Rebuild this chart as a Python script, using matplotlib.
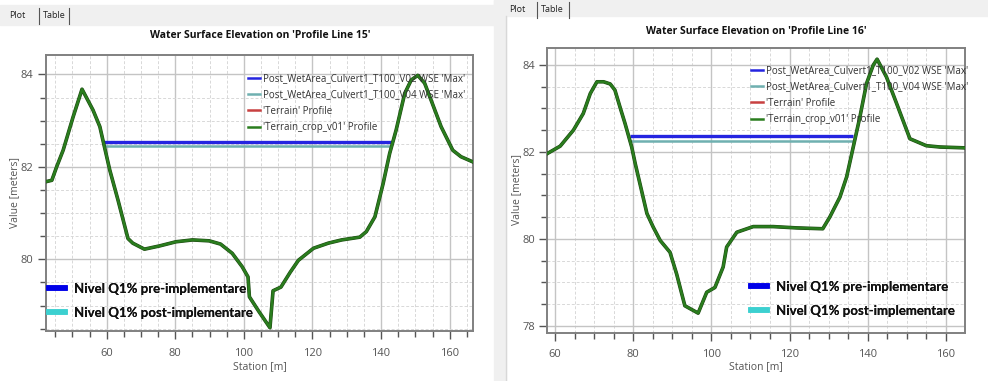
import matplotlib
matplotlib.use('Agg')
import matplotlib.pyplot as plt
from matplotlib.lines import Line2D
from matplotlib.patches import Rectangle
from matplotlib.ticker import MultipleLocator
import matplotlib.patheffects as pe

plt.rcParams['font.family'] = ['Open Sans', 'DejaVu Sans']

# ---------------- data ----------------
titles = ["Water Surface Elevation on 'Profile Line 15'",
          "Water Surface Elevation on 'Profile Line 16'"]
series_labels = ["Post_WetArea_Culvert1_T100_V02 WSE 'Max'",
                 "Post_WetArea_Culvert1_T100_V04 WSE 'Max'",
                 "'Terrain' Profile",
                 "'Terrain_crop_v01' Profile"]
note_labels = ["Nivel Q1% pre-implementare", "Nivel Q1% post-implementare"]

# Profile Line 15
left_station = [42.3, 44.0, 45.4, 47.3, 50.2, 52.8, 56.0, 58.0, 59.1, 60.9, 63.3, 66.2,
                67.6, 71.0, 75.4, 80.2, 85.0, 89.9, 93.2, 96.6, 99.5, 101.2, 101.6,
                104.3, 107.6, 108.5, 110.8, 113.5, 115.9, 120.3, 124.6, 128.5, 133.8,
                135.7, 138.2, 140.6, 142.5, 144.4, 146.9, 148.8, 150.7, 152.7, 154.6,
                157.5, 160.9, 163.3, 167.0]
left_elev = [81.68, 81.71, 82.00, 82.36, 83.08, 83.68, 83.23, 82.87, 82.51, 81.93, 81.28,
             80.45, 80.35, 80.22, 80.29, 80.38, 80.42, 80.40, 80.33, 80.13, 79.84, 79.62,
             79.19, 78.88, 78.52, 79.32, 79.40, 79.72, 79.98, 80.24, 80.35, 80.42, 80.48,
             80.60, 80.92, 81.64, 82.29, 82.80, 83.59, 83.88, 83.98, 83.81, 83.44, 82.87,
             82.36, 82.22, 82.10]
left_wse_v02_station = [58.9, 143.5]
left_wse_v02 = [82.54, 82.54]
left_wse_v04_station = [58.9, 143.3]
left_wse_v04 = [82.45, 82.45]

# Profile Line 16
right_station = [58.0, 61.3, 64.7, 67.2, 69.0, 70.7, 72.4, 74.1, 75.3, 76.6, 77.9, 79.6,
                 80.5, 81.7, 83.5, 85.1, 86.9, 89.4, 91.1, 93.2, 96.6, 98.8, 100.9, 103.0,
                 103.9, 106.5, 110.7, 115.8, 121.8, 128.5, 130.3, 132.9, 134.6, 136.3,
                 138.0, 139.7, 141.4, 142.4, 144.8, 147.4, 150.8, 155.0, 158.5, 165.0]
right_elev = [81.96, 82.13, 82.50, 82.88, 83.34, 83.61, 83.61, 83.56, 83.42, 83.03, 82.65,
              82.11, 81.73, 81.27, 80.58, 80.27, 79.96, 79.69, 79.19, 78.46, 78.29, 78.77,
              78.88, 79.35, 79.81, 80.15, 80.28, 80.28, 80.25, 80.23, 80.50, 80.96, 81.42,
              82.11, 82.80, 83.57, 83.99, 84.13, 83.72, 83.11, 82.30, 82.14, 82.11, 82.09]
right_wse_v02_station = [79.2, 136.3]
right_wse_v02 = [82.36, 82.36]
right_wse_v04_station = [79.2, 136.2]
right_wse_v04 = [82.24, 82.24]

# ---------------- figure ----------------
W, H = 988, 381
fig = plt.figure(figsize=(W / 100, H / 100), dpi=100)
fig.patch.set_facecolor('white')


def fx(px):
    return px / W


def fy(py):
    return 1 - py / H


# window chrome
fig.patches.append(Rectangle((0, fy(25)), fx(494), 20 / H, transform=fig.transFigure,
                             color='#f0f0f0', zorder=0))
fig.patches.append(Rectangle((fx(494), 0), fx(12), 1, transform=fig.transFigure,
                             color='#f0f0f0', zorder=0))
fig.patches.append(Rectangle((fx(494), fy(16)), fx(494), 16 / H, transform=fig.transFigure,
                             color='#f0f0f0', zorder=0))
fig.lines.append(Line2D([fx(506), fx(506)], [0, fy(16)], transform=fig.transFigure,
                        color='#d8d8d8', lw=1))

for (px, py, sep) in [(9, 16, (39, 69)), (509, 10, (537, 569))]:
    fig.text(fx(px), fy(py), 'Plot', ha='left', va='center', fontsize=6.5, color='#222')
    fig.text(fx(sep[0] + 4), fy(py), 'Table', ha='left', va='center', fontsize=6.5, color='#222')
    for s in sep:
        fig.lines.append(Line2D([fx(s), fx(s)], [fy(py - 8), fy(py + 8)],
                                transform=fig.transFigure, color='#555', lw=0.8))

fig.text(fx(260), fy(35), titles[0], ha='center', va='center', fontsize=7.5,
         fontweight='bold', color='#111')
fig.text(fx(756), fy(32), titles[1], ha='center', va='center', fontsize=7.5,
         fontweight='bold', color='#111')

axL = fig.add_axes([fx(46), fy(331), fx(427), 276 / H])
axR = fig.add_axes([fx(547.3), fy(332.7), fx(417.7), 284.4 / H])

C_V02 = '#2424e0'
C_V04 = '#6fb0b0'
C_TER = '#c84040'
C_CROP = '#2a7d1e'


def style(ax, xlab_pos, ylab_pos):
    for s in ax.spines.values():
        s.set_color('#808080')
        s.set_linewidth(1.4)
    ax.xaxis.set_major_locator(MultipleLocator(20))
    ax.xaxis.set_minor_locator(MultipleLocator(5))
    ax.yaxis.set_major_locator(MultipleLocator(2))
    ax.yaxis.set_minor_locator(MultipleLocator(0.5))
    ax.tick_params(which='major', direction='out', length=6, width=1, color='#555',
                   labelsize=8, labelcolor='#555')
    ax.tick_params(axis='x', which='major', pad=6)
    ax.tick_params(axis='y', which='major', pad=3)
    ax.tick_params(which='minor', direction='out', length=4, width=1, color='#555')
    ax.grid(which='major', color='#c4c4c4', lw=1.0, ls='-')
    ax.grid(which='minor', color='#d8d8d8', lw=0.7, ls=(0, (3, 2)))
    ax.set_axisbelow(True)
    ax.set_xlabel('Station [m]', fontsize=7.5, color='#555')
    ax.set_ylabel('Value [meters]', fontsize=7.5, color='#555')
    ax.xaxis.set_label_coords(*xlab_pos)
    ax.yaxis.set_label_coords(*ylab_pos)


def draw(ax, st, el, s2, v2, s4, v4):
    h1, = ax.plot(s2, v2, color=C_V02, lw=2.4, solid_capstyle='butt', zorder=3)
    h2, = ax.plot(s4, v4, color=C_V04, lw=1.8, solid_capstyle='butt', zorder=3)
    h3, = ax.plot(st, el, color=C_TER, lw=1.6, zorder=4)
    h4, = ax.plot(st, el, color=C_CROP, lw=1.8, zorder=5,
                  path_effects=[pe.Stroke(linewidth=2.6, foreground='#1e4a14'), pe.Normal()])
    return [h1, h2, h3, h4]


draw(axL, left_station, left_elev, left_wse_v02_station, left_wse_v02,
     left_wse_v04_station, left_wse_v04)
draw(axR, right_station, right_elev, right_wse_v02_station, right_wse_v02,
     right_wse_v04_station, right_wse_v04)
style(axL, (0.501, -0.109), (-0.061, 0.5))
style(axR, (0.4996, -0.0995), (-0.0606, 0.502))
axL.set_xlim(42.3, 166.8)
axL.set_ylim(78.45, 84.42)
axR.set_xlim(58.0, 164.9)
axR.set_ylim(77.84, 84.38)

legend_handles = [Line2D([], [], color=c, lw=1.8) for c in (C_V02, C_V04, C_TER, C_CROP)]
for ax, (px, py) in [(axL, (248, 73)), (axR, (751, 65))]:
    leg = ax.legend(legend_handles, series_labels, loc='upper left',
                    bbox_to_anchor=(fx(px), fy(py)), bbox_transform=fig.transFigure,
                    frameon=False, borderpad=0, fontsize=7, handlelength=1.2,
                    handletextpad=0.3, labelspacing=0.55, borderaxespad=0)
    for t in leg.get_texts():
        t.set_color('#333')
    ax.add_artist(leg)

note_handles = [Line2D([], [], color='#0000e8', lw=4),
                Line2D([], [], color='#3cd0d0', lw=4)]
for ax, (px, py) in [(axL, (49, 283)), (axR, (751, 281))]:
    leg2 = ax.legend(note_handles, note_labels, loc='upper left',
                     bbox_to_anchor=(fx(px), fy(py)), bbox_transform=fig.transFigure,
                     frameon=False, borderpad=0, borderaxespad=0,
                     prop={'family': ['Lato', 'DejaVu Sans'], 'weight': 'bold', 'size': 9.5},
                     handlelength=1.25, handletextpad=0.65, labelspacing=0.9)
    for t in leg2.get_texts():
        t.set_color('#111')
    ax.add_artist(leg2)

fig.savefig('out.png', dpi=100, facecolor='white')
